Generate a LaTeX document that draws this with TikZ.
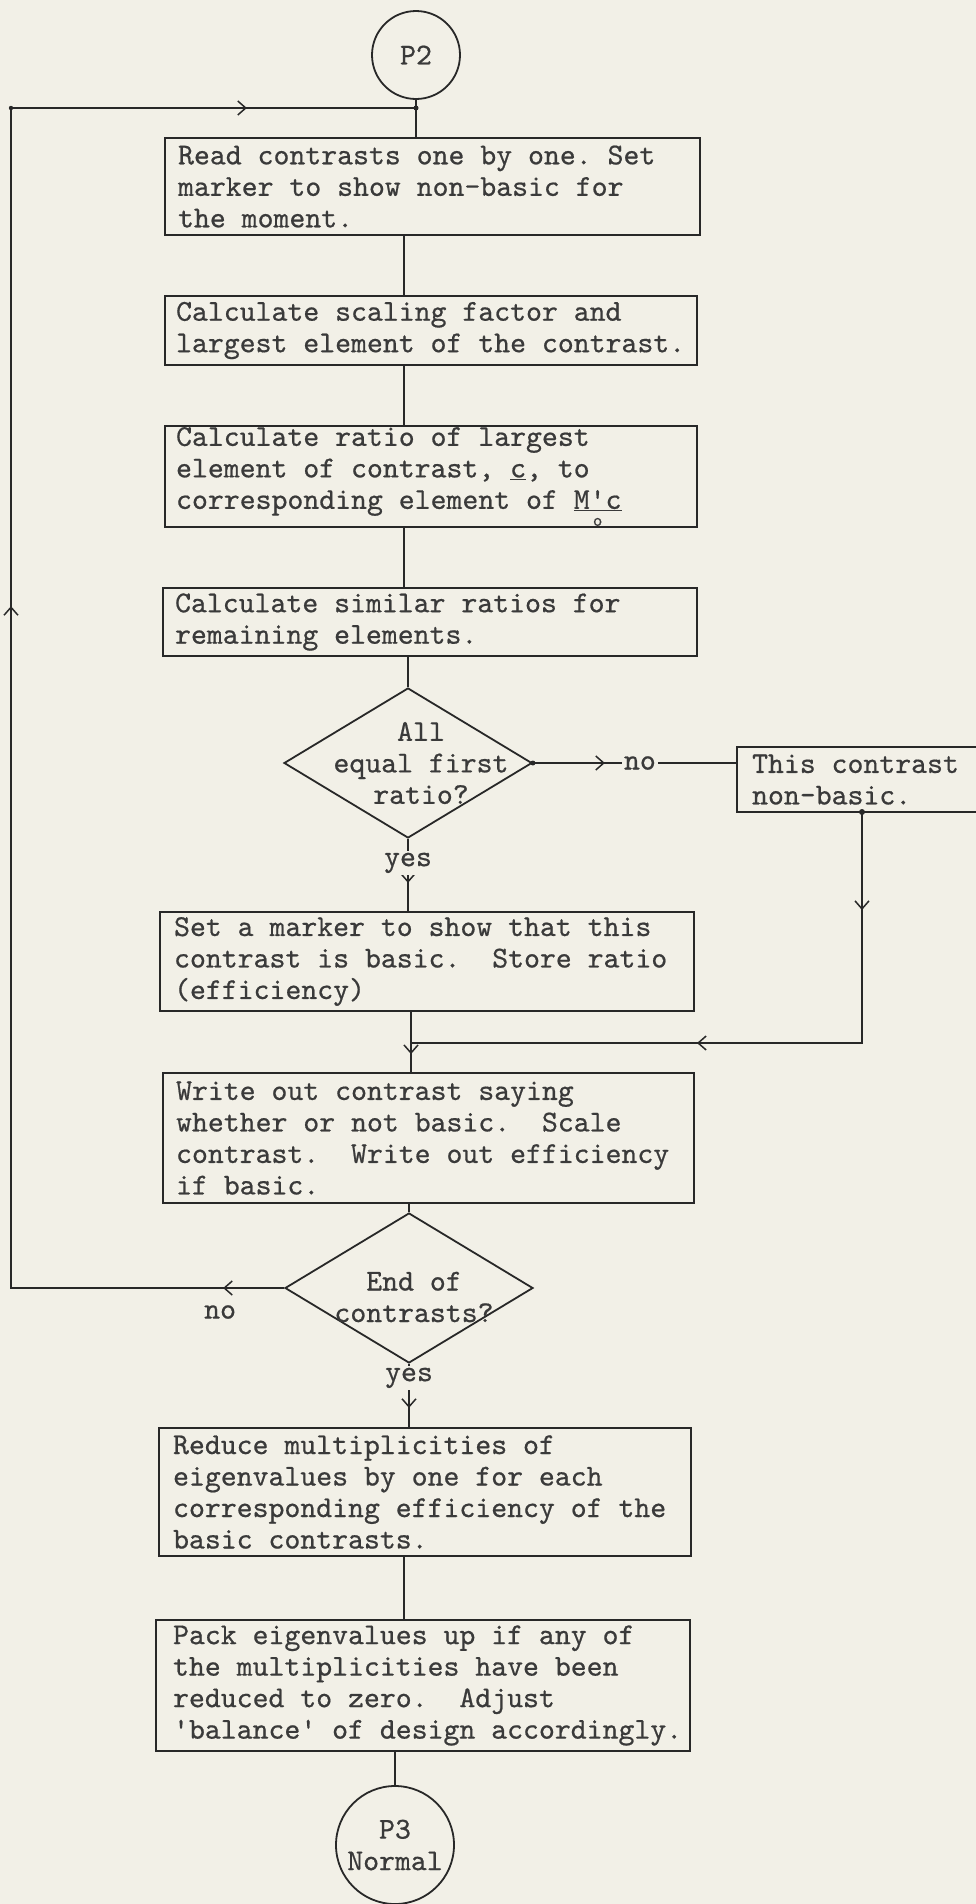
\documentclass[tikz,border=0pt]{standalone}
\usepackage{fontspec}
\usetikzlibrary{shapes.geometric,arrows.meta,decorations.markings}

\definecolor{paper}{RGB}{242,240,231}
\definecolor{ink}{RGB}{40,40,40}
\definecolor{typed}{RGB}{58,58,58}

% slightly inked typewriter face used for every text
\newfontfamily\twfont{lmmono10-regular.otf}[FakeBold=0.6]
\newcommand\typewriter{\twfont\fontsize{30.3}{31.5}\selectfont\frenchspacing}
% underlined M'c with the small subscript o under the prime
\newcommand\Mprimec{\rlap{\hphantom{M}\makebox[\fontcharwd\font`\']{\raisebox{-17pt}{\fontsize{18}{18}\selectfont o}}}\underline{M'c}}

\tikzset{
  >={Straight Barb[length=8pt,width=14pt]},
  boxframe/.style={draw=ink,line width=2.2pt,rectangle,inner sep=0pt},
  txt/.style={text=typed,font=\typewriter,align=left,inner sep=0pt,anchor=west},
  ctxt/.style={text=typed,font=\typewriter,align=center,inner sep=0pt},
  decision/.style={draw=ink,line width=1.8pt,diamond,inner sep=0pt,
                   minimum width=248pt,minimum height=150pt},
  terminal/.style={draw=ink,line width=1.8pt,circle,inner sep=0pt,
                   text=typed,font=\typewriter,align=center},
  wire/.style={draw=ink,line width=1.5pt},
  tipat/.style={postaction={decorate,decoration={markings,
                mark=at position #1 with {\arrow{>}}}}},
  lbl/.style={fill=paper,text=typed,font=\typewriter,inner sep=2pt},
}

\begin{document}
\begin{tikzpicture}[x=1pt,y=-1pt]
\useasboundingbox (0,0) rectangle (976,1904);
\clip (0,0) rectangle (976,1904);
\fill[paper] (0,0) rectangle (976,1904);

% ---- terminals ----
\node[terminal,minimum size=88pt] (p2) at (416,55) {P2};
\node[terminal,minimum size=118pt] (p3) at (395,1845) {P3\\Normal};

% ---- process boxes ----
\node[boxframe,minimum width=535pt,minimum height=97pt]  (b1) at (432.5,186.5) {};
\node[boxframe,minimum width=532pt,minimum height=69pt]  (b2) at (431,330.5) {};
\node[boxframe,minimum width=532pt,minimum height=101pt] (b3) at (431,476.5) {};
\node[boxframe,minimum width=534pt,minimum height=68pt]  (b4) at (430,622) {};
\node[boxframe,minimum width=260pt,minimum height=65pt]  (b5) at (867,779.5) {};
\node[boxframe,minimum width=534pt,minimum height=99pt]  (b6) at (427,961.5) {};
\node[boxframe,minimum width=531pt,minimum height=130pt] (b7) at (428.5,1138) {};
\node[boxframe,minimum width=532pt,minimum height=128pt] (b8) at (425,1492) {};
\node[boxframe,minimum width=534pt,minimum height=131pt] (b9) at (423,1685.5) {};

\node[txt] (t1) at ([xshift=14pt]b1.west) {Read contrasts one by one. Set\\marker to show non-basic for\\the moment.};
\node[txt] (t2) at ([xshift=12pt]b2.west) {Calculate scaling factor and\\largest element of the contrast.};
\node[txt] (t3) at ([xshift=12pt]b3.west) {Calculate ratio of largest\\element of contrast, \underline{c}, to\\corresponding element of \Mprimec};
\node[txt] (t4) at ([xshift=13pt]b4.west) {Calculate similar ratios for\\remaining elements.};
\node[txt] (t5) at ([xshift=16pt]b5.west) {This contrast\\non-basic.};
\node[txt] (t6) at ([xshift=15pt]b6.west) {Set a marker to show that this\\contrast is basic.\ \ Store ratio\\(efficiency)};
\node[txt] (t7) at ([xshift=14pt]b7.west) {Write out contrast saying\\whether or not basic.\ \ Scale\\contrast.\ \ Write out efficiency\\if basic.};
\node[txt] (t8) at ([xshift=15pt]b8.west) {Reduce multiplicities of\\eigenvalues by one for each\\corresponding efficiency of the\\basic contrasts.};
\node[txt] (t9) at ([xshift=18pt]b9.west) {Pack eigenvalues up if any of\\the multiplicities have been\\reduced to zero.\ \ Adjust\\'balance' of design accordingly.};

% ---- decisions ----
\node[decision] (d1) at (408,763) {};
\node[ctxt] (d1t) at ([xshift=13pt]d1.center) {All\\equal first\\ratio?};
\node[decision] (d2) at (409,1288) {};
\node[ctxt] (d2t) at ([xshift=5pt,yshift=-9pt]d2.center) {End of\\contrasts?};

% ---- connectors down the main column ----
\coordinate (sp) at (404,0);
\draw[wire] (p2.south) -- (p2.south |- b1.north);
\draw[wire] (b1.south -| sp) -- (b2.north -| sp);
\draw[wire] (b2.south -| sp) -- (b3.north -| sp);
\draw[wire] (b3.south -| sp) -- (b4.north -| sp);
\draw[wire] (b4.south -| d1.north) -- (d1.north);

% yes branch of the first decision
\draw[wire,tipat=44pt] (d1.south) -- (d1.south |- b6.north);
\node[lbl] (y1) at ([yshift=-24pt]d1.south) {yes};

% no branch of the first decision
\draw[wire,tipat=72pt] (d1.east) -- (d1.east -| b5.west);
\node[lbl] (n1) at ([xshift=107pt]d1.east) {no};
\fill[ink] (d1.east) circle (2.5pt);

% return from the non-basic box into the column
\coordinate (tap) at (862,812);
\coordinate (mg) at (411,1043);
\draw[wire,tipat=98pt,tipat=396pt] (tap) -- (tap |- mg) -- (mg);
\fill[ink] (tap) circle (3pt);

\draw[wire,tipat=42pt] (b6.south -| mg) -- (b7.north -| mg);
\draw[wire] (b7.south -| d2.north) -- (d2.north);

% yes branch of the second decision
\draw[wire,tipat=44pt] (d2.south) -- (d2.south |- b8.north);
\node[lbl] (y2) at ([yshift=-14pt]d2.south) {yes};

% loop back to the top
\coordinate (lx) at (11,108);
\draw[wire,tipat=61pt,tipat=955pt,tipat=1689pt]
  (d2.west) -- (d2.west -| lx) -- (lx) -- (lx -| p2.south);
\fill[ink] (lx) circle (2.2pt);
\fill[ink] (lx -| p2.south) circle (2.5pt);
\node[text=typed,font=\typewriter,inner sep=0pt] (n2) at ([xshift=-64pt,yshift=-24pt]d2.west) {no};

\draw[wire] (b8.south -| sp) -- (b9.north -| sp);
\draw[wire] (b9.south -| p3.north) -- (p3.north);
\end{tikzpicture}
\end{document}
